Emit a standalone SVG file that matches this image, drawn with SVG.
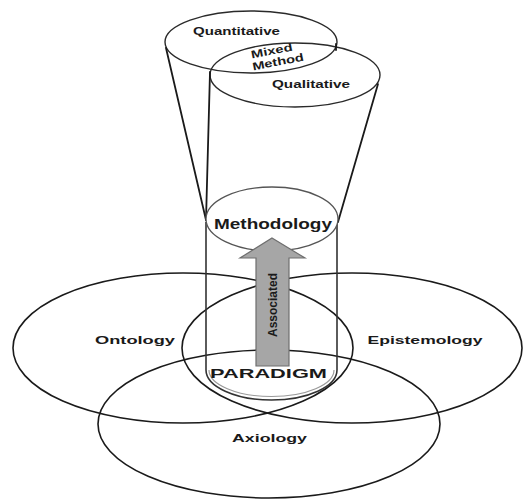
<svg xmlns="http://www.w3.org/2000/svg" width="523" height="500" viewBox="0 0 523 500">
  <style>
    .ring { fill: none; stroke: #1a1a1a; stroke-width: 1.6; }
    .thin { fill: none; stroke: #2a2a2a; stroke-width: 1.4; }
    .line { fill: none; stroke: #1a1a1a; stroke-width: 1.8; stroke-linecap: round; }
    .lbl { font-family: "Liberation Sans", Arial, sans-serif; font-weight: bold; fill: #1a1a1a; text-anchor: middle; }
    .s10 { font-size: 10px; }
    .s11 { font-size: 11px; }
    .s12 { font-size: 12px; }
    .s13 { font-size: 13px; }
    .s14 { font-size: 14px; }
  </style>
  <rect x="0" y="0" width="523" height="500" fill="#ffffff"/>

  <!-- philosophical dimensions of the paradigm -->
  <g id="node-ontology">
    <ellipse class="ring" cx="183" cy="348" rx="170" ry="75"/>
    <text class="lbl s10" x="135" y="344" textLength="80" lengthAdjust="spacingAndGlyphs">Ontology</text>
  </g>
  <g id="node-epistemology">
    <ellipse class="ring" cx="352" cy="348" rx="170" ry="75"/>
    <text class="lbl s10" x="425" y="344" textLength="115" lengthAdjust="spacingAndGlyphs">Epistemology</text>
  </g>
  <g id="node-axiology">
    <ellipse class="ring" cx="269" cy="424" rx="171" ry="74"/>
    <text class="lbl s10" x="269.5" y="442" textLength="75" lengthAdjust="spacingAndGlyphs">Axiology</text>
  </g>

  <!-- research approaches at the top of the funnel -->
  <g id="node-quantitative">
    <ellipse class="thin" cx="251" cy="42" rx="86" ry="31"/>
    <text class="lbl s10" x="236.5" y="35" textLength="87" lengthAdjust="spacingAndGlyphs">Quantitative</text>
  </g>
  <g id="node-qualitative">
    <ellipse class="thin" cx="295" cy="75" rx="85" ry="32"/>
    <text class="lbl s10" x="311" y="88" textLength="78" lengthAdjust="spacingAndGlyphs">Qualitative</text>
  </g>
  <g id="node-mixed">
    <g transform="rotate(-11 275 57)">
      <text class="lbl s11" x="273" y="54" textLength="42" lengthAdjust="spacingAndGlyphs">Mixed</text>
      <text class="lbl s11" x="277" y="66" textLength="52" lengthAdjust="spacingAndGlyphs">Method</text>
    </g>
  </g>

  <!-- funnel, cylinder and the association arrow -->
  <g id="connectors">
    <line class="line" x1="166" y1="48" x2="206" y2="220"/>
    <line class="line" x1="210" y1="72" x2="206" y2="220"/>
    <line class="line" x1="378" y1="84" x2="338" y2="222"/>
    <line class="line" x1="336" y1="44" x2="336" y2="50"/>
    <line fill="none" stroke="#333" stroke-width="1.6" x1="206" y1="222" x2="206" y2="370"/>
    <line fill="none" stroke="#333" stroke-width="1.6" x1="337" y1="222" x2="337" y2="370"/>
    <path d="M206 370 A65.5 30 0 0 0 337 370" fill="none" stroke="#333" stroke-width="1.6"/>
    <path d="M209 370 A62.5 26.5 0 0 0 334 370" fill="none" stroke="#9a9a9a" stroke-width="1.2"/>
  </g>

  <g id="node-methodology">
    <ellipse cx="272" cy="219" rx="66" ry="32" fill="#ffffff" stroke="#555" stroke-width="1.3"/>
    <text class="lbl s14" x="273" y="229" textLength="118" lengthAdjust="spacingAndGlyphs">Methodology</text>
  </g>

  <g id="arrow-associated">
    <path d="M272 238 L305 258 L289 258 L289 366 L256 366 L256 258 L240 258 Z" fill="#a6a6a6" stroke="#6e6e6e" stroke-width="1.2" stroke-linejoin="miter"/>
    <text class="lbl s12" transform="translate(276.5 305) rotate(-90)" x="0" y="0" textLength="64" lengthAdjust="spacingAndGlyphs">Associated</text>
  </g>

  <g id="node-paradigm">
    <text class="lbl s13" x="268.5" y="378" textLength="117" lengthAdjust="spacingAndGlyphs">PARADIGM</text>
  </g>
</svg>
